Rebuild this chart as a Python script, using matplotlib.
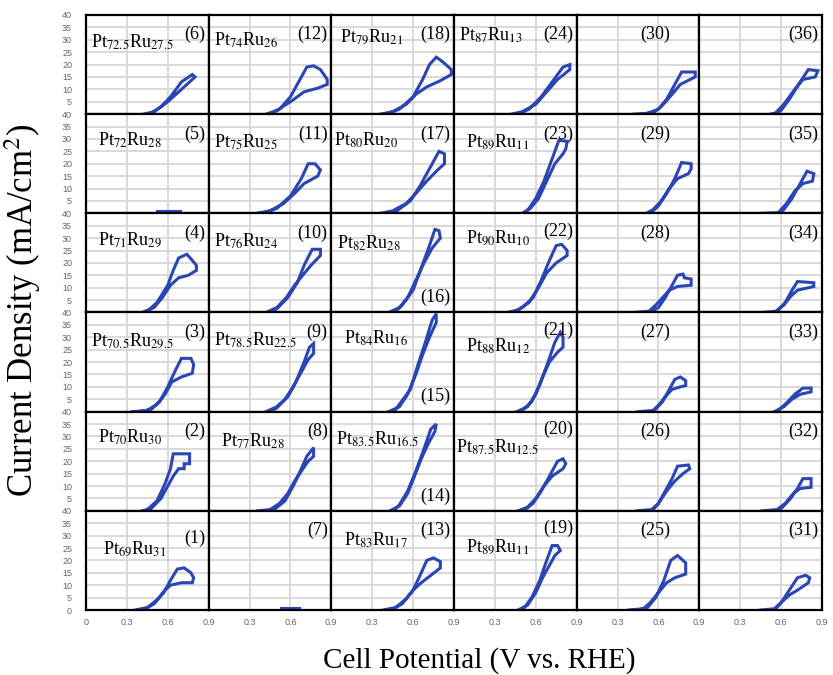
import matplotlib.pyplot as plt

plt.rcParams['mathtext.fontset'] = 'stix'
plt.rcParams['font.family'] = 'Liberation Serif'

# composition of each electrode (Pt, Ru) by panel number; None = no label
comp = {
    1: ('69', '31'), 2: ('70', '30'), 3: ('70.5', '29.5'), 4: ('71', '29'),
    5: ('72', '28'), 6: ('72.5', '27.5'),
    7: None, 8: ('77', '28'), 9: ('78.5', '22.5'), 10: ('76', '24'),
    11: ('75', '25'), 12: ('74', '26'),
    13: ('83', '17'), 14: ('83.5', '16.5'), 15: ('84', '16'), 16: ('82', '28'),
    17: ('80', '20'), 18: ('79', '21'),
    19: ('89', '11'), 20: ('87.5', '12.5'), 21: ('88', '12'), 22: ('90', '10'),
    23: ('89', '11'), 24: ('87', '13'),
}

# cyclic scans: potential (V vs RHE) and current density (mA/cm2)
cv_v = {
    1: [0.36, 0.45, 0.52, 0.58, 0.62, 0.70, 0.78, 0.79, 0.77, 0.72, 0.67, 0.62, 0.57, 0.50, 0.42],
    2: [0.41, 0.48, 0.55, 0.60, 0.64, 0.68, 0.72, 0.72, 0.76, 0.76, 0.64, 0.62, 0.58, 0.52, 0.45],
    3: [0.34, 0.45, 0.52, 0.58, 0.63, 0.70, 0.78, 0.79, 0.77, 0.70, 0.65, 0.60, 0.54, 0.48, 0.40],
    4: [0.41, 0.50, 0.56, 0.62, 0.68, 0.75, 0.81, 0.81, 0.78, 0.74, 0.68, 0.64, 0.60, 0.52, 0.45],
    5: [0.52, 0.69],
    6: [0.42, 0.50, 0.60, 0.70, 0.80, 0.78, 0.70, 0.62, 0.55, 0.48],
    7: [0.53, 0.66],
    8: [0.36, 0.45, 0.52, 0.58, 0.63, 0.68, 0.73, 0.77, 0.77, 0.72, 0.68, 0.63, 0.56, 0.48],
    9: [0.42, 0.50, 0.56, 0.62, 0.68, 0.73, 0.77, 0.77, 0.74, 0.70, 0.64, 0.58, 0.50, 0.45],
    10: [0.42, 0.50, 0.57, 0.63, 0.69, 0.75, 0.82, 0.82, 0.76, 0.70, 0.65, 0.58, 0.50, 0.45],
    11: [0.35, 0.45, 0.55, 0.63, 0.70, 0.80, 0.82, 0.78, 0.73, 0.68, 0.60, 0.50, 0.40],
    12: [0.42, 0.50, 0.60, 0.70, 0.80, 0.87, 0.87, 0.82, 0.77, 0.72, 0.66, 0.60, 0.52, 0.45],
    13: [0.38, 0.47, 0.54, 0.60, 0.66, 0.73, 0.80, 0.80, 0.75, 0.70, 0.66, 0.60, 0.52, 0.44],
    14: [0.43, 0.50, 0.56, 0.61, 0.66, 0.71, 0.76, 0.77, 0.73, 0.68, 0.62, 0.56, 0.50, 0.46],
    15: [0.42, 0.50, 0.56, 0.62, 0.67, 0.72, 0.77, 0.77, 0.74, 0.69, 0.63, 0.58, 0.50, 0.46],
    16: [0.42, 0.50, 0.56, 0.62, 0.68, 0.74, 0.80, 0.79, 0.76, 0.72, 0.66, 0.60, 0.52, 0.46],
    17: [0.36, 0.45, 0.55, 0.62, 0.70, 0.78, 0.83, 0.83, 0.79, 0.73, 0.65, 0.58, 0.48, 0.40],
    18: [0.36, 0.45, 0.55, 0.62, 0.70, 0.80, 0.88, 0.88, 0.82, 0.77, 0.72, 0.67, 0.60, 0.50, 0.40],
    19: [0.47, 0.54, 0.60, 0.65, 0.70, 0.74, 0.78, 0.76, 0.72, 0.68, 0.63, 0.57, 0.51],
    20: [0.47, 0.54, 0.60, 0.66, 0.72, 0.80, 0.82, 0.80, 0.76, 0.70, 0.64, 0.58, 0.52],
    21: [0.46, 0.54, 0.60, 0.65, 0.70, 0.76, 0.80, 0.80, 0.78, 0.74, 0.69, 0.63, 0.57, 0.50],
    22: [0.39, 0.47, 0.55, 0.62, 0.68, 0.75, 0.83, 0.83, 0.79, 0.75, 0.70, 0.64, 0.58, 0.50, 0.43],
    23: [0.50, 0.56, 0.62, 0.68, 0.74, 0.80, 0.82, 0.83, 0.77, 0.72, 0.66, 0.60, 0.55, 0.52],
    24: [0.42, 0.50, 0.60, 0.68, 0.76, 0.85, 0.85, 0.80, 0.72, 0.64, 0.55, 0.47],
    25: [0.38, 0.49, 0.54, 0.60, 0.66, 0.72, 0.80, 0.80, 0.78, 0.74, 0.69, 0.64, 0.58, 0.52, 0.45],
    26: [0.44, 0.55, 0.60, 0.66, 0.72, 0.78, 0.83, 0.82, 0.74, 0.70, 0.65, 0.60, 0.56],
    27: [0.45, 0.56, 0.60, 0.65, 0.70, 0.76, 0.80, 0.80, 0.76, 0.72, 0.68, 0.63, 0.58],
    28: [0.42, 0.53, 0.58, 0.63, 0.68, 0.74, 0.84, 0.84, 0.79, 0.78, 0.74, 0.70, 0.65, 0.60, 0.55],
    29: [0.51, 0.56, 0.62, 0.68, 0.74, 0.82, 0.84, 0.84, 0.77, 0.72, 0.66, 0.60, 0.55],
    30: [0.42, 0.56, 0.62, 0.70, 0.76, 0.87, 0.87, 0.77, 0.72, 0.66, 0.60, 0.50],
    31: [0.45, 0.55, 0.60, 0.66, 0.72, 0.80, 0.81, 0.78, 0.72, 0.66, 0.60, 0.56],
    32: [0.46, 0.57, 0.63, 0.69, 0.74, 0.82, 0.82, 0.76, 0.72, 0.67, 0.61, 0.58],
    33: [0.55, 0.62, 0.68, 0.74, 0.82, 0.82, 0.76, 0.70, 0.64, 0.58],
    34: [0.46, 0.56, 0.62, 0.67, 0.72, 0.84, 0.84, 0.72, 0.68, 0.63, 0.58],
    35: [0.46, 0.58, 0.64, 0.70, 0.76, 0.83, 0.84, 0.79, 0.74, 0.68, 0.62, 0.58],
    36: [0.52, 0.56, 0.62, 0.70, 0.76, 0.85, 0.87, 0.80, 0.74, 0.66, 0.60, 0.55],
}
cv_j = {
    1: [0, 1, 4, 8, 10, 11, 11, 13, 15, 17, 16.5, 12, 7, 2.5, 0],
    2: [0, 1, 5, 10, 14, 17, 17, 19, 19, 23, 23, 17, 11, 4, 0.5],
    3: [0, 0.5, 3, 7, 12, 14, 15.5, 19, 21.5, 21.5, 16, 10, 4, 1, 0],
    4: [0, 2, 6, 11, 14, 15, 17, 19, 21, 23.5, 22, 17, 11, 4, 0.5],
    5: [1, 1],
    6: [0, 1, 5, 10, 15, 16, 13, 7, 3, 0.5],
    7: [1, 1],
    8: [0, 0.5, 3, 7, 12, 16, 20, 22, 25.5, 22, 17, 11, 4, 0.5],
    9: [0, 2, 5, 10, 16, 21, 23.5, 27.5, 26, 20, 12, 6, 1.5, 0],
    10: [0, 2, 6, 11, 15, 19, 23, 25.5, 25.5, 19, 12, 6, 1.5, 0],
    11: [0, 1, 4, 8, 12, 15, 17.5, 20, 20, 14, 7, 2, 0],
    12: [0, 1.5, 5, 9, 10.5, 12, 14, 18, 19.5, 19, 13, 7, 2, 0],
    13: [0, 1, 4, 8, 11, 14, 17, 19.5, 21, 20, 15, 8, 2.5, 0],
    14: [0, 2, 7, 14, 21, 27, 32, 35, 33, 25, 16, 8, 2.5, 0],
    15: [0, 2, 7, 15, 23, 30, 36, 39.5, 37, 28, 18, 9, 3, 0],
    16: [0, 2, 6, 13, 20, 26, 30, 33, 33.5, 27, 18, 9, 3, 0],
    17: [0, 1, 4, 8, 13, 17.5, 20, 24, 25, 19, 11, 5, 1, 0],
    18: [0, 1, 4, 8, 11, 13.5, 16, 18, 21, 23, 20, 14, 7, 2, 0],
    19: [0, 2, 7, 13, 18, 22, 24, 26, 26, 20, 12, 5, 0.5],
    20: [0, 1.5, 5, 10, 14, 17, 19, 21, 20, 14, 8, 3, 0.5],
    21: [0, 2, 7, 14, 20, 24, 26, 30, 32, 28, 20, 11, 4, 0.5],
    22: [0, 1, 4, 10, 16, 20, 23, 25, 27.5, 27, 21, 13, 6, 2, 0],
    23: [0, 2, 6, 13, 20, 24, 26, 29, 29.5, 22, 13, 6, 2, 0],
    24: [0, 1, 4, 9, 14, 18, 20, 19, 13, 7, 2, 0],
    25: [0, 0.5, 3, 7, 11, 13, 14.5, 19, 20, 22, 20, 12, 5, 1, 0],
    26: [0, 0.5, 3, 8, 12, 15, 17, 18.5, 18, 13, 8, 3, 0.5],
    27: [0, 0.5, 2.5, 6, 9, 10, 10.5, 12.5, 14, 13, 9, 4, 1],
    28: [0, 0.5, 3, 6, 9, 10.5, 11, 13.5, 14, 15.5, 15, 11, 6, 2, 0.5],
    29: [0, 1.5, 5, 10, 14, 16, 18, 20, 20.5, 14, 8, 3, 0.5],
    30: [0, 0.5, 3, 8, 12, 15, 17, 17, 12, 6, 2, 0],
    31: [0, 0.5, 3, 6, 8, 11, 13, 14, 13, 8, 3, 0.5],
    32: [0, 0.5, 3, 7, 9, 9.5, 13, 13, 9, 5, 1.5, 0],
    33: [0, 2, 5, 7, 8, 9.5, 9.5, 7, 3.5, 0.5],
    34: [0, 0.5, 3, 6.5, 9, 10.5, 12, 12.5, 9, 4, 1],
    35: [0, 0.3, 4, 9, 12, 13, 16, 17, 12, 6, 1.5, 0],
    36: [0, 0.5, 4, 10, 14, 15, 17.5, 18, 13, 6, 1.5, 0],
}

y_ticks = [0, 5, 10, 15, 20, 25, 30, 35, 40]
x_ticks = [0, 0.3, 0.6, 0.9]
x_tick_labels = ['0', '0.3', '0.6', '0.9']

# label placement (axes fraction)
num_pos = {n: (0.97, 0.80, 'right') for n in range(1, 37)}
for n in range(25, 31):
    num_pos[n] = (0.64, 0.80, 'center')
for n in (14, 15, 16):
    num_pos[n] = (0.97, 0.15, 'right')
num_pos[1] = (0.97, 0.72, 'right')
for n in (19, 20, 21, 22):
    num_pos[n] = (0.97, 0.82, 'right')
comp_pos = {n: (0.04, 0.72) for n in range(1, 25)}
comp_pos.update({
    1: (0.14, 0.62), 2: (0.10, 0.74), 4: (0.10, 0.74), 5: (0.10, 0.74),
    8: (0.10, 0.70), 12: (0.04, 0.74), 13: (0.10, 0.70), 14: (0.04, 0.72),
    15: (0.10, 0.74), 16: (0.05, 0.70), 17: (0.02, 0.74), 18: (0.07, 0.78),
    19: (0.10, 0.64), 20: (0.02, 0.64), 21: (0.10, 0.66), 22: (0.10, 0.76),
    23: (0.10, 0.72), 24: (0.04, 0.80),
})

blue = '#2b45b3'

fig, axes = plt.subplots(6, 6, figsize=(8.33, 6.75), dpi=100)
fig.subplots_adjust(left=86 / 833, right=822 / 833, top=1 - 15 / 675,
                    bottom=1 - 610 / 675, hspace=0, wspace=0)

for n in range(1, 37):
    col = (n - 1) // 6
    row = 5 - (n - 1) % 6
    ax = axes[row, col]
    ax.set_xlim(0, 0.9)
    ax.set_ylim(0, 40)
    ax.set_xticks(x_ticks)
    ax.set_yticks(y_ticks)
    ax.grid(True, color='#d9d9d9', lw=1.4)
    ax.set_axisbelow(True)
    for s in ax.spines.values():
        s.set_linewidth(1.6)
        s.set_color('black')
    ax.tick_params(length=0, labelsize=6.5, labelcolor='#666666')
    ax.tick_params(axis='y', pad=10)
    ax.tick_params(axis='x', pad=6)

    ax.plot(cv_v[n], cv_j[n], color=blue, lw=2.2, solid_joinstyle='miter')

    x, y, ha = num_pos[n]
    ax.text(x, y, f'({n})', transform=ax.transAxes, ha=ha, va='center',
            fontsize=13)
    if comp.get(n):
        pt, ru = comp[n]
        x, y = comp_pos[n]
        ax.text(x, y, rf'Pt$_{{{pt}}}$Ru$_{{{ru}}}$', transform=ax.transAxes,
                ha='left', va='center', fontsize=13)

    # tick labels only on the outer panels
    if col == 0:
        labels = [str(t) for t in y_ticks]
        if row < 5:
            labels[0] = ''
        ax.set_yticklabels(labels, family='Liberation Sans')
    else:
        ax.tick_params(labelleft=False)
    if row == 5:
        labels = list(x_tick_labels)
        if col > 0:
            labels[0] = ''
        ax.set_xticklabels(labels, family='Liberation Sans')
    else:
        ax.tick_params(labelbottom=False)

fig.text(0.027, 0.54, 'Current Density (mA/cm$^2$)', rotation=90,
         ha='center', va='center', fontsize=25)
fig.text(0.575, 0.022, 'Cell Potential (V vs. RHE)', ha='center',
         va='center', fontsize=21)

fig.savefig('out.png', dpi=100)
